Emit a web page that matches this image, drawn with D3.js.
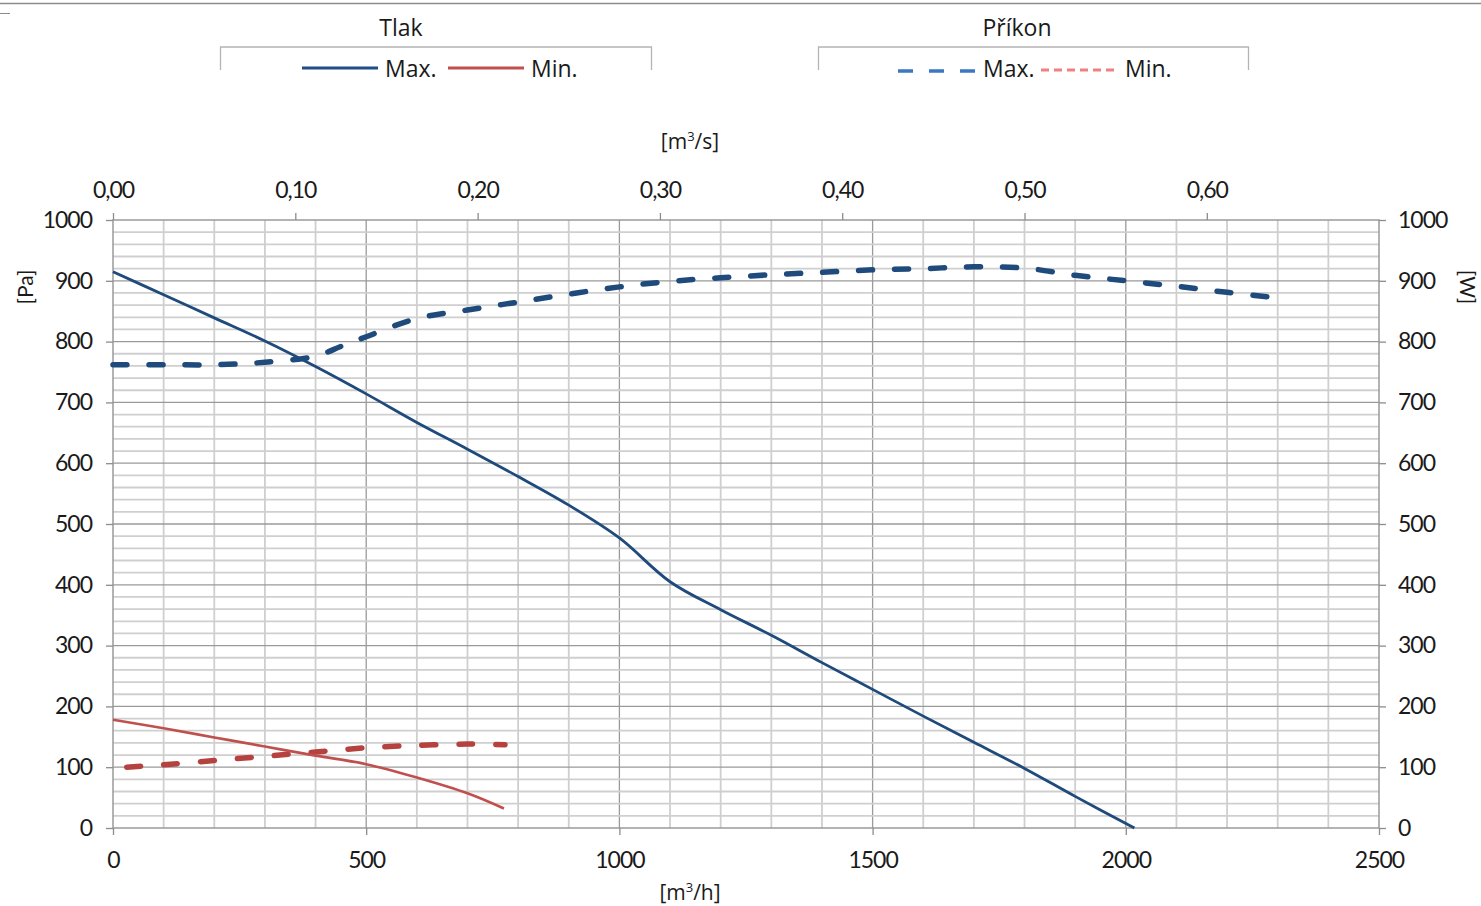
<!DOCTYPE html>
<html>
<head>
<meta charset="utf-8">
<script src="https://cdn.jsdelivr.net/npm/d3@7"></script>
<style>
  body { margin: 0; background: #fff; }
  svg text { fill: #1a1a1a; }
</style>
</head>
<body>
<svg id="chart" width="1481" height="906"></svg>
<script>
// airflow [m3/h] -> static pressure [Pa], power [W]
var flowMaxP = [0, 100, 200, 300, 400, 500, 600, 700, 800, 900, 1000, 1100, 1200, 1300, 1400, 1500, 1600, 1700, 1800, 1900, 2017];
var tlakMax  = [915, 877, 839, 801, 759, 714, 667, 623, 578, 531, 477, 405, 359, 317, 272, 228, 184, 141, 98, 52, 0];

var flowMinP = [0, 100, 200, 300, 400, 500, 600, 700, 772];
var tlakMin  = [178, 164, 149, 134, 119, 105, 83, 57, 32];

var flowMaxW  = [0, 100, 200, 300, 400, 450, 500, 600, 700, 800, 900, 1000, 1100, 1200, 1300, 1400, 1500, 1600, 1700, 1800, 1900, 2000, 2100, 2200, 2300];
var prikonMax = [762, 762, 762, 766, 776, 792, 808, 838, 852, 865, 878, 890, 899, 905, 910, 914, 918, 920, 923, 921, 909, 900, 891, 881, 872];

var flowMinW  = [27, 100, 200, 300, 400, 500, 600, 700, 774];
var prikonMin = [100, 104, 111, 118, 125, 132, 136, 138, 137];

var yTicks = [0, 100, 200, 300, 400, 500, 600, 700, 800, 900, 1000];
var xTicks = [0, 500, 1000, 1500, 2000, 2500];
var topTicks = [0, 0.1, 0.2, 0.3, 0.4, 0.5, 0.6];

var svg = d3.select("#chart");
var tickFont = "Lato, 'Open Sans', sans-serif";
var legFont = "'Liberation Sans Narrow', 'Open Sans', sans-serif";

var x = d3.scaleLinear().domain([0, 2500]).range([113, 1379]);
var xs = d3.scaleLinear().domain([0, 2500 / 3600]).range([113, 1379]);
var y = d3.scaleLinear().domain([0, 1000]).range([828, 220]);

// top rule
svg.append("line").attr("x1", 0).attr("x2", 1481).attr("y1", 3.5).attr("y2", 3.5)
    .attr("stroke", "#8c8c8c").attr("stroke-width", 1.5);
svg.append("line").attr("x1", 0).attr("x2", 10).attr("y1", 13.5).attr("y2", 13.5)
    .attr("stroke", "#8c8c8c").attr("stroke-width", 1);

// grid
var grid = svg.append("g");
grid.selectAll(".vx").data(d3.range(100, 2500, 100)).enter().append("line")
    .attr("x1", d => x(d)).attr("x2", d => x(d))
    .attr("y1", y(0)).attr("y2", y(1000))
    .attr("stroke", d => d % 500 === 0 ? "#9a9a9a" : "#cfcfcf")
    .attr("stroke-width", d => d % 500 === 0 ? 1.3 : 1.8);
grid.selectAll(".hy").data(d3.range(20, 1000, 20)).enter().append("line")
    .attr("x1", x(0)).attr("x2", x(2500))
    .attr("y1", d => y(d)).attr("y2", d => y(d))
    .attr("stroke", d => d % 100 === 0 ? "#9a9a9a" : "#cfcfcf")
    .attr("stroke-width", d => d % 100 === 0 ? 1.3 : 1.8);

// frame
grid.append("rect").attr("x", x(0)).attr("y", y(1000))
    .attr("width", x(2500) - x(0)).attr("height", y(0) - y(1000))
    .attr("fill", "none").attr("stroke", "#9a9a9a").attr("stroke-width", 1.5);

// axes
function styleAxis(g) {
    g.select(".domain").remove();
    g.selectAll(".tick line").attr("stroke", "#8c8c8c").attr("stroke-width", 1.3);
    g.selectAll(".tick text").attr("font-family", tickFont).attr("font-size", 23)
        .attr("letter-spacing", "-1px").attr("fill", "#1a1a1a");
}

svg.append("g").attr("transform", "translate(" + x(0) + ",0)")
    .call(d3.axisLeft(y).tickValues(yTicks).tickSize(7).tickPadding(14).tickFormat(d3.format("d")))
    .call(styleAxis);

svg.append("g").attr("transform", "translate(" + x(2500) + ",0)")
    .call(d3.axisRight(y).tickValues(yTicks).tickSize(7).tickPadding(12).tickFormat(d3.format("d")))
    .call(styleAxis);

svg.append("g").attr("transform", "translate(0," + y(0) + ")")
    .call(d3.axisBottom(x).tickValues(xTicks).tickSize(7).tickPadding(17).tickFormat(d3.format("d")))
    .call(styleAxis);

svg.append("g").attr("transform", "translate(0," + y(1000) + ")")
    .call(d3.axisTop(xs).tickValues(topTicks).tickSize(7).tickPadding(15)
        .tickFormat(d => d3.format(".2f")(d).replace(".", ",")))
    .call(styleAxis);

// axis titles
svg.append("text").attr("x", 690).attr("y", 149).attr("text-anchor", "middle")
    .attr("font-family", legFont).attr("font-size", 21)
    .html("[m<tspan dy='-8' font-size='13'>3</tspan><tspan dy='8'>/s]</tspan>");
svg.append("text").attr("x", 690).attr("y", 900).attr("text-anchor", "middle")
    .attr("font-family", legFont).attr("font-size", 21)
    .html("[m<tspan dy='-8' font-size='13'>3</tspan><tspan dy='8'>/h]</tspan>");
svg.append("text").attr("transform", "translate(33,287) rotate(-90)").attr("text-anchor", "middle")
    .attr("font-family", tickFont).attr("font-size", 21).text("[Pa]");
svg.append("text").attr("transform", "translate(1460,287) rotate(90)").attr("text-anchor", "middle")
    .attr("font-family", tickFont).attr("font-size", 21).text("[W]");

// curves
var line = d3.line().curve(d3.curveCatmullRom.alpha(0.5));
function pts(xs_, ys_) { return xs_.map((v, i) => [x(v), y(ys_[i])]); }

svg.append("path").attr("d", line(pts(flowMinW, prikonMin)))
    .attr("fill", "none").attr("stroke", "#b5423e").attr("stroke-width", 5.5)
    .attr("stroke-dasharray", "14,23").attr("stroke-linecap", "round");
svg.append("path").attr("d", line(pts(flowMaxW, prikonMax)))
    .attr("fill", "none").attr("stroke", "#1f4a7c").attr("stroke-width", 5.5)
    .attr("stroke-dasharray", "14,22").attr("stroke-linecap", "round");
svg.append("path").attr("d", line(pts(flowMinP, tlakMin)))
    .attr("fill", "none").attr("stroke", "#c0504d").attr("stroke-width", 2.6);
svg.append("path").attr("d", line(pts(flowMaxP, tlakMax)))
    .attr("fill", "none").attr("stroke", "#1f4a7c").attr("stroke-width", 2.8);

// legends
function legend(title, cx, x0, x1, items) {
    var g = svg.append("g");
    g.append("text").attr("x", cx).attr("y", 36).attr("text-anchor", "middle")
        .attr("font-family", legFont).attr("font-size", 23).text(title);
    g.append("path").attr("d", "M" + x0 + ",70V47H" + x1 + "V70")
        .attr("fill", "none").attr("stroke", "#b4b4b4").attr("stroke-width", 1.3);
    items.forEach(function (it) {
        g.append("line").attr("x1", it.lx0).attr("x2", it.lx1).attr("y1", it.ly).attr("y2", it.ly)
            .attr("stroke", it.color).attr("stroke-width", it.w)
            .attr("stroke-dasharray", it.dash || null);
        g.append("text").attr("x", it.tx).attr("y", 77)
            .attr("font-family", legFont).attr("font-size", 23).text(it.label);
    });
}
legend("Tlak", 401, 220.5, 651.5, [
    { lx0: 302, lx1: 378, ly: 68, color: "#1f4e89", w: 3, tx: 385, label: "Max." },
    { lx0: 448, lx1: 524, ly: 68, color: "#c0504d", w: 3, tx: 531, label: "Min." }
]);
legend("Příkon", 1017, 818.5, 1248.5, [
    { lx0: 898, lx1: 976, ly: 71, color: "#3a78c4", w: 3.5, dash: "15,16", tx: 983, label: "Max." },
    { lx0: 1041, lx1: 1114, ly: 70, color: "#f08080", w: 3, dash: "8,5", tx: 1125, label: "Min." }
]);
</script>
</body>
</html>
